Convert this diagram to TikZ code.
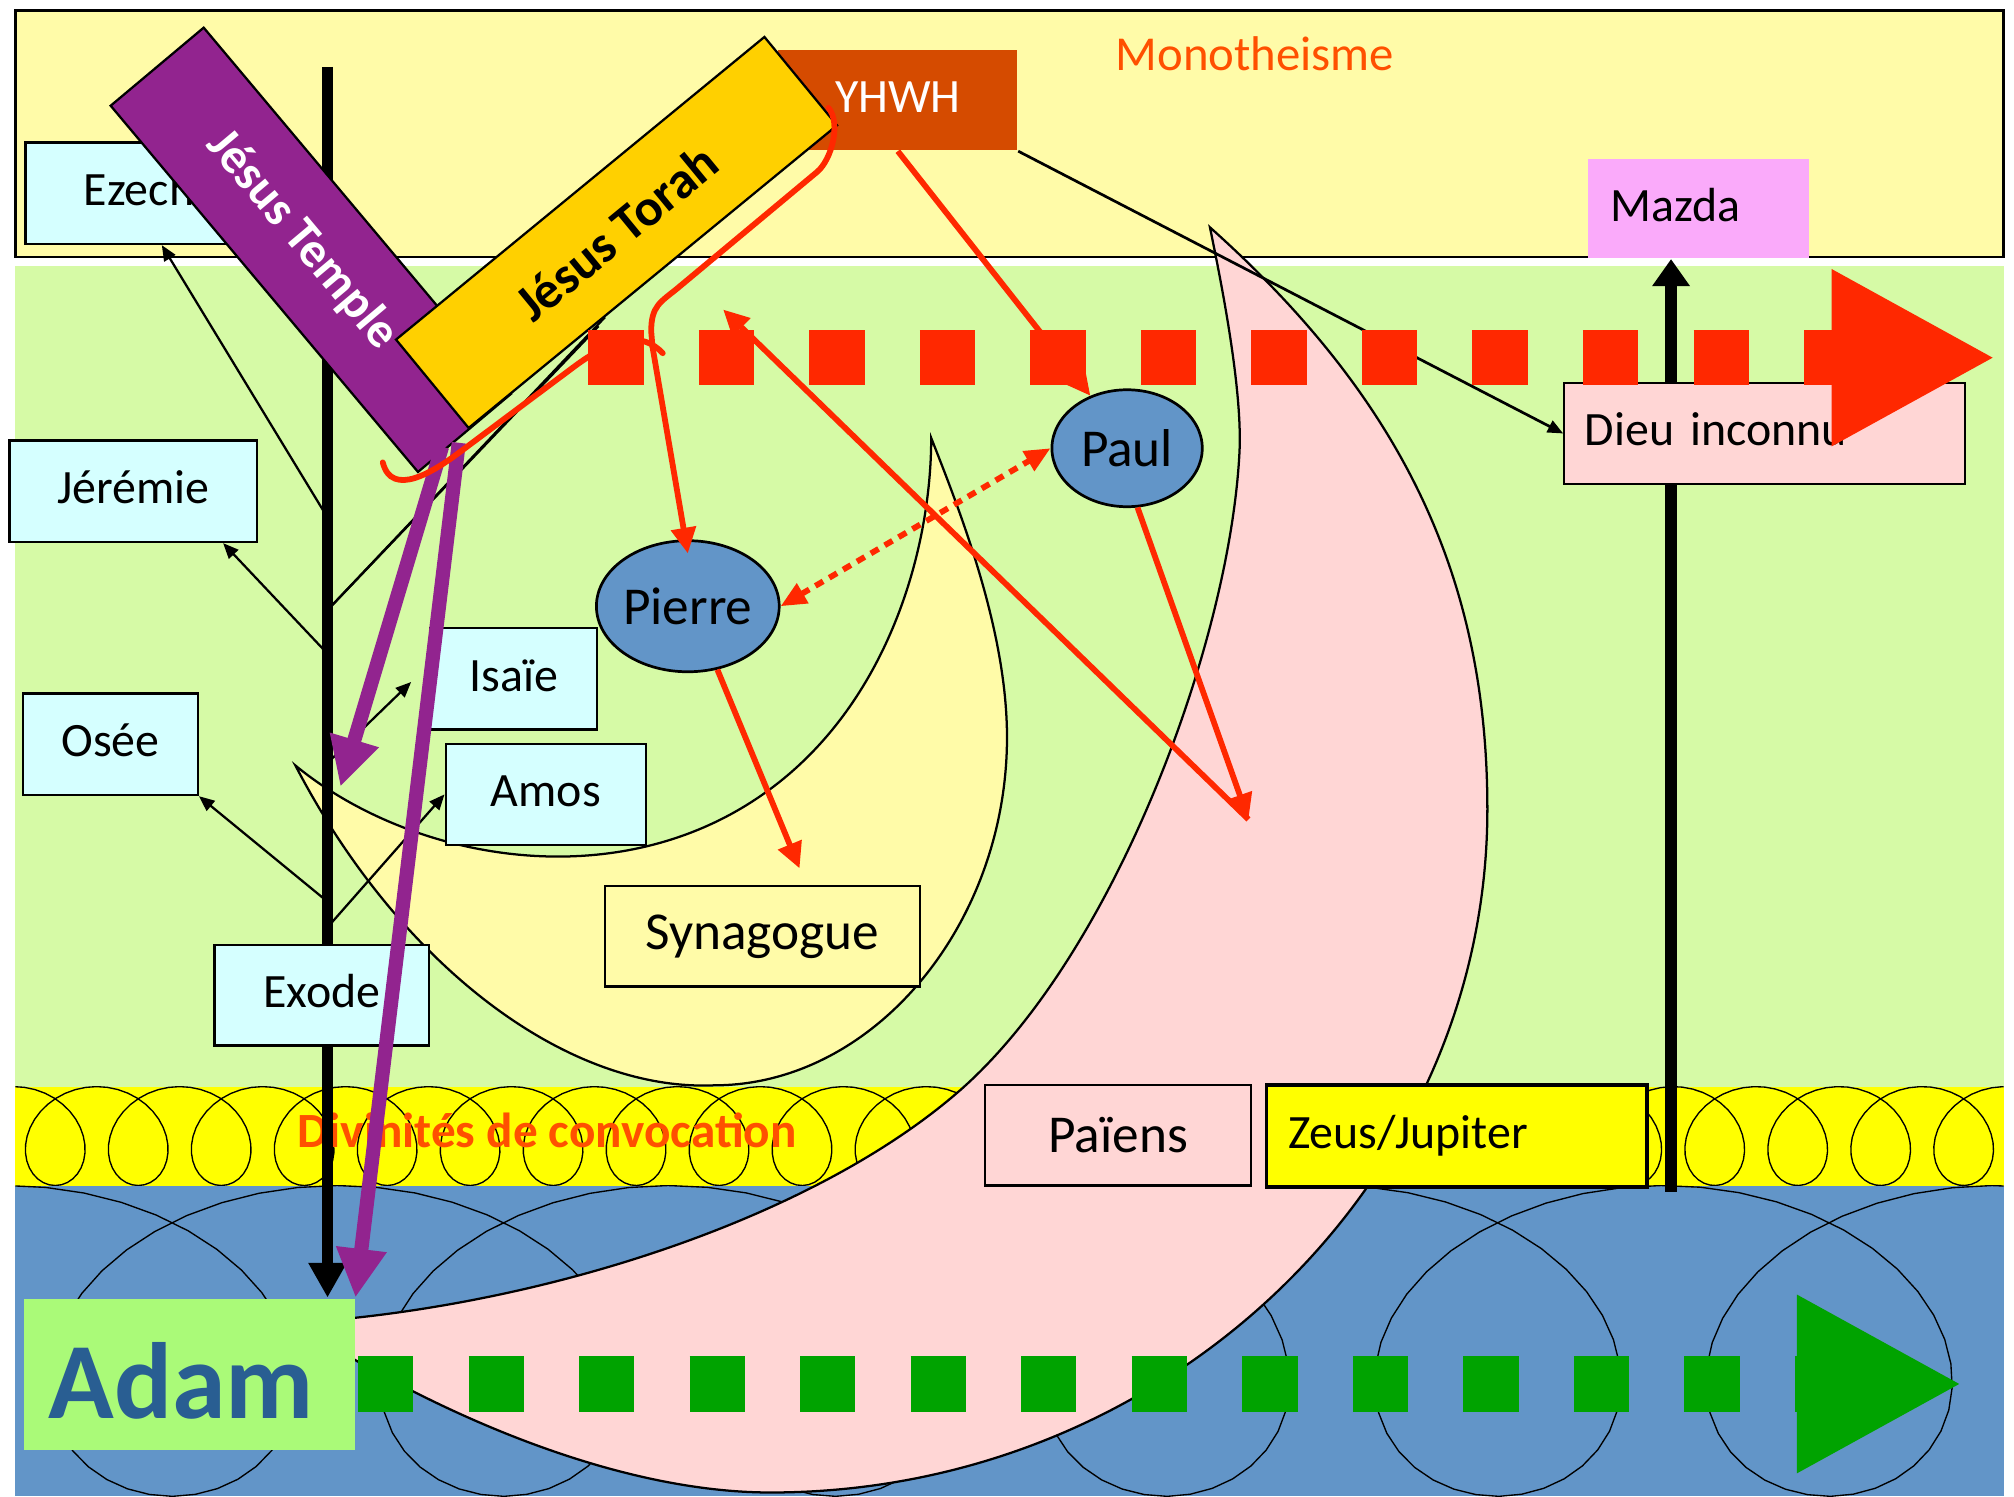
\documentclass[tikz,border=0pt]{standalone}
\usepackage{fontspec}
\setmainfont{Carlito}
\usepackage{tikz}
\usetikzlibrary{arrows.meta,shapes.geometric,calc}
\definecolor{monoyellow}{HTML}{FFFBA8}
\definecolor{bandgreen}{HTML}{D6FAA6}
\definecolor{convocyellow}{HTML}{FFFF00}
\definecolor{seablue}{HTML}{6295C8}
\definecolor{paganpink}{HTML}{FFD6D5}
\definecolor{prophetcyan}{HTML}{D5FFFF}
\definecolor{torahgold}{HTML}{FFD000}
\definecolor{templepurple}{HTML}{92248F}
\definecolor{yhwhorange}{HTML}{D54B00}
\definecolor{mazdapink}{HTML}{FAAAFA}
\definecolor{adamgreen}{HTML}{AAFA78}
\definecolor{adamblue}{HTML}{295E92}
\definecolor{arrowred}{HTML}{FF2800}
\definecolor{titleorange}{HTML}{FF5000}
\definecolor{pathgreen}{HTML}{00A300}
\definecolor{apostleblue}{HTML}{6295C8}
\begin{document}
\begin{tikzpicture}[x=0.01cm,y=-0.01cm]
\tikzstyle{every node}=[font=\fontsize{10.6}{12}\selectfont]
\tikzstyle{raised}=[text height=0.75em,text depth=0.2em]
\tikzstyle{box}=[draw,line width=0.5pt,inner sep=0pt]
\tikzstyle{prophet}=[box,raised,fill=prophetcyan,minimum height=0.79cm]
\tikzstyle{bigtext}=[font=\fontsize{11.8}{13}\selectfont]
\tikzstyle{apostle}=[draw,ellipse,fill=apostleblue,line width=0.6pt,inner sep=0pt,bigtext]
\tikzstyle{bar}=[draw,line width=0.5pt,inner sep=0pt]
\tikzstyle{coil}=[line width=0.3pt]
\tikzstyle{branch}=[line width=0.5pt,-{Triangle[length=0.12cm,width=0.1cm]}]
\tikzstyle{trunk}=[line width=0.09cm,-{Triangle[length=0.27cm,width=0.28cm]}]
\tikzstyle{redline}=[draw=arrowred,line width=0.045cm,line cap=round]
\tikzstyle{redarrow}=[draw=arrowred,line width=0.045cm,-{Triangle[length=0.2cm,width=0.19cm]}]
\tikzstyle{reddots}=[draw=arrowred,line width=0.045cm,dash pattern=on 0.07cm off 0.055cm,{Triangle[length=0.2cm,width=0.17cm]}-{Triangle[length=0.2cm,width=0.17cm]}]
\tikzstyle{purplearrow}=[draw=templepurple,line width=0.11cm,-{Triangle[length=0.38cm,width=0.37cm]}]
\tikzstyle{bigdash}=[line width=0.43cm,dash pattern=on 0.43cm off 0.43cm]

\useasboundingbox (0,0) rectangle (1568,1165);
\fill[white] (0,0) rectangle (1568,1165);

\filldraw[fill=monoyellow,draw=black,line width=0.6pt] (12,8) rectangle (1560,200);
\fill[bandgreen] (12,207) rectangle (1560,846);
\fill[convocyellow] (12,846) rectangle (1560,923);
\fill[seablue] (12,923) rectangle (1560,1165);
\begin{scope}
\clip (12,846) rectangle (1560,923);
\draw[coil] plot[domain=-1.5:24.5,samples=937] ({43+64.6*\x-38*sin(360*\x)},{884.5+38.5*cos(360*\x)});
\end{scope}
\begin{scope}
\clip (12,923) rectangle (1560,1165);
\draw[coil] plot[domain=-1.5:6.5,samples=321] ({134+258*\x-155*sin(360*\x)},{1044+121*cos(360*\x)});
\end{scope}
\node[font=\fontsize{10.9}{12}\selectfont\bfseries,text=titleorange] (convoc) at (426,880) {Divinités de convocation};
\node[text=titleorange,font=\fontsize{10.8}{12}\selectfont] (mono) at (977,42) {Monotheisme};

\filldraw[fill=paganpink,line width=0.5pt] (942,177) .. controls (1092,311) and (1158,450) .. (1158,630)
 .. controls (1158,923) and (907,1162) .. (600,1162)
 .. controls (470,1162) and (320,1090) .. (230,1030)
 .. controls (420,1018) and (630,950) .. (745,851)
 .. controls (866,747) and (957.5,502) .. (965,352)
 .. controls (967.5,302) and (950,216) .. cycle;
\filldraw[fill=monoyellow,line width=0.5pt] (725,341) .. controls (747,397) and (784,490) .. (784,574)
 .. controls (784,720) and (680,845) .. (556,845)
 .. controls (440,850) and (310,750) .. (230,596)
 .. controls (320,670) and (480,700) .. (596,617)
 .. controls (690,550) and (725,430) .. cycle;

\node[fill=adamgreen,minimum width=2.57cm,minimum height=1.18cm,inner sep=0pt] (adam) at (147.5,1070) {};
\node[font=\fontsize{24}{28}\selectfont\bfseries,text=adamblue] (adamlabel) at (141,1075) {Adam};
\node[raised,fill=mazdapink,minimum width=1.72cm,minimum height=0.77cm,text width=1.36cm,inner xsep=0.18cm,inner ysep=0pt,align=left] (mazda) at (1322,162.5) {Mazda};

\coordinate (trunktop) at (255,52);
\coordinate (mazdafoot) at (1301,928);
\draw[trunk] (trunktop) -- (trunktop |- adam.north);
\draw[line width=0.09cm,-{Triangle[length=0.21cm,width=0.28cm]}] (mazdafoot) -- (mazdafoot |- mazda.south);

\node[prophet,minimum width=2.12cm] (ezech) at (126,150.5) {Ezechiel};
\node[prophet,minimum width=1.925cm] (jeremie) at (103.75,382.5) {Jérémie};
\node[prophet,minimum width=1.36cm] (osee) at (86,579.5) {Osée};
\node[prophet,minimum width=1.30cm] (isaie) at (400,528.5) {Isaïe};
\node[prophet,minimum width=1.56cm] (amos) at (425,618.5) {Amos};
\node[prophet,minimum width=1.67cm,minimum height=0.78cm] (exode) at (250.5,775) {Exode};
\node[box,bigtext,fill=monoyellow,minimum width=2.45cm,minimum height=0.78cm] (synagogue) at (593.5,729) {Synagogue};
\node[box,bigtext,fill=paganpink,minimum width=2.07cm,minimum height=0.78cm] (paiens) at (870.5,884) {Païens};
\node[box,raised,fill=convocyellow,line width=0.8pt,minimum width=2.96cm,minimum height=0.79cm,text width=2.62cm,inner xsep=0.17cm,align=left] (zeus) at (1134,884.5) {Zeus/Jupiter};
\node[box,raised,fill=paganpink,minimum width=3.12cm,minimum height=0.79cm,text width=2.8cm,inner xsep=0.16cm,align=left] (dieu) at (1374,337.5) {Dieu inconnu};

\coordinate (t-ezech) at (255,403);
\coordinate (t-fork) at (255,475);
\coordinate (t-jeremie) at (255,509);
\coordinate (t-isaie) at (255,594);
\coordinate (t-osee) at (255,702);
\coordinate (t-amos) at (255,722);
\draw[branch] (t-ezech) -- (ezech.south);
\draw[branch] (t-jeremie) -- (jeremie.-30);
\draw[branch] (t-osee) -- (osee.south east);
\draw[branch] (t-amos) -- (amos.west);
\draw[branch] (t-isaie) -- ($(isaie.west)+(-14,2.5)$);
\draw[line width=0.5pt] (t-fork) -- (471,247);
\draw[line width=0.5pt] (t-fork) -- (466,254);

\node[raised,fill=yhwhorange,text=white,minimum width=1.86cm,minimum height=0.78cm,inner sep=0pt] (yhwh) at (699,78) {YHWH};
\node[bar,fill=templepurple,text=white,rotate=-50,minimum width=3.72cm,minimum height=0.945cm,font=\fontsize{11}{13}\selectfont\bfseries] (jtemple) at (242,194.5) {Jésus Temple\hspace*{0.2cm}};
\node[bar,fill=torahgold,rotate=39.4,minimum width=3.71cm,minimum height=0.89cm,font=\fontsize{11.5}{13}\selectfont\bfseries] (jtorah) at (480,181) {Jésus Torah};

\draw[line width=0.6pt,-{Triangle[length=0.12cm,width=0.1cm]}] (yhwh.south east) -- (dieu.west);

\node[apostle,minimum width=1.27cm,minimum height=1.02cm] (pierre) at (535.5,472) {Pierre};
\node[apostle,minimum width=1.17cm,minimum height=0.91cm] (paul) at (877.5,349) {Paul};

\coordinate (yellowtip) at (265,612.5);
\draw[purplearrow] ($(jtemple.east)+(-18,10)$) -- (yellowtip);
\draw[purplearrow] ($(jtemple.east)+(-5,7)$) -- (adam.north east);

\coordinate (hook) at (508,270);
\coordinate (vpoint) at (972,638);
\coordinate (upleft) at (563,241);
\draw[redline] (298,360) .. controls (305,388) and (338,367) .. (358,352) -- (445,287) .. controls (478,262) and (500,258) .. (516,275);
\draw[redline] (hook) -- (507,258) .. controls (507,238) and (514,235.5) .. (528,224) -- (636,134) .. controls (647.5,124.4) and (655,96) .. (645,84);
\draw[redarrow] (hook) -- ($(pierre.north)+(0,11)$);
\draw[redarrow] (yhwh.south) -- (paul.125);
\draw[redarrow] (pierre.-65) -- ($(synagogue.north)+(29,-13)$);
\draw[redarrow] (paul.-80) -- (vpoint);
\draw[redarrow] (vpoint) -- (upleft);
\draw[reddots] (pierre.east) -- (paul.west);

\coordinate (redstart) at (458,278.5);
\coordinate (redend) at (1554,278.5);
\coordinate (greenend) at (1528,1077.5);
\draw[bigdash,arrowred,-{Triangle[length=1.28cm,width=1.28cm]}] (redstart) -- (redend);
\draw[bigdash,pathgreen,-{Triangle[length=1.29cm,width=1.29cm]}] ($(adam.east)+(2,7.5)$) -- (greenend);
\end{tikzpicture}
\end{document}
